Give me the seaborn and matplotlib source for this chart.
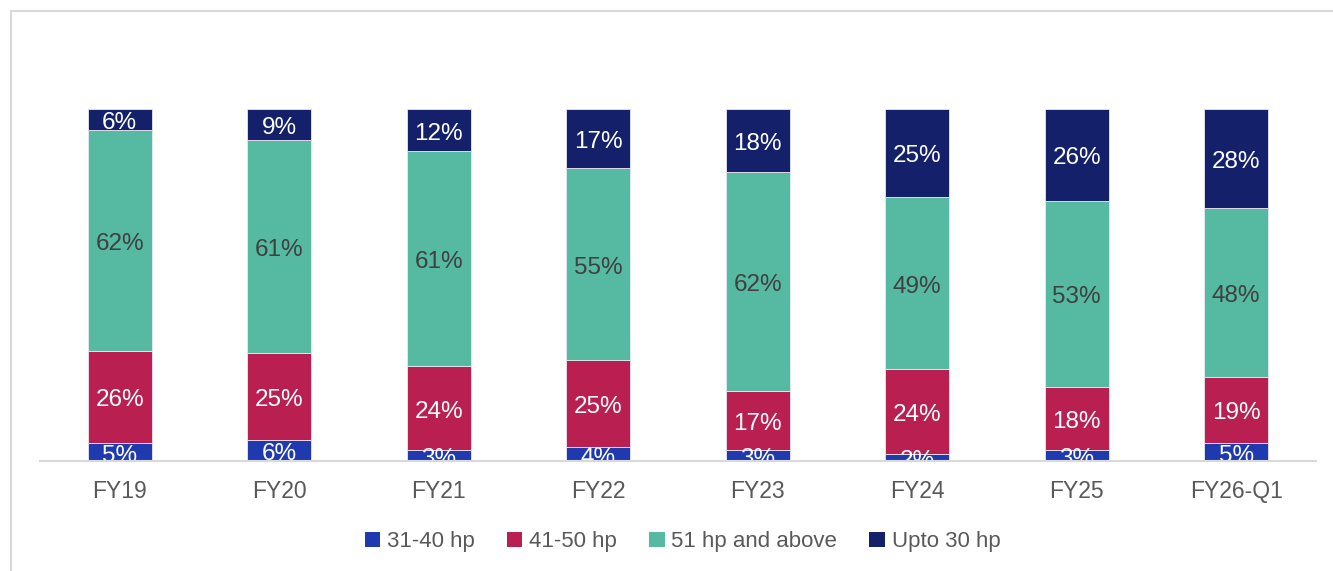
import matplotlib
matplotlib.use("Agg")
import matplotlib.pyplot as plt
from matplotlib.lines import Line2D
from matplotlib.patches import Patch
import numpy as np
import pandas as pd
import seaborn as sns

# Tractor sales mix by horsepower segment (share of volume, %)
years = ["FY19", "FY20", "FY21", "FY22", "FY23", "FY24", "FY25", "FY26-Q1"]
hp_31_40 = [5, 6, 3, 4, 3, 2, 3, 5]
hp_41_50 = [26, 25, 24, 25, 17, 24, 18, 19]
hp_51_up = [62, 61, 61, 55, 62, 49, 53, 48]
hp_upto_30 = [6, 9, 12, 17, 18, 25, 26, 28]

segments = ["31-40 hp", "41-50 hp", "51 hp and above", "Upto 30 hp"]
colors = ["#1F3AAF", "#BA1F51", "#55BAA1", "#14216A"]
label_colors = ["white", "white", "#404040", "white"]

sns.set_theme(style="white")
plt.rcParams["font.family"] = ["Liberation Sans", "DejaVu Sans"]

values = np.array([hp_31_40, hp_41_50, hp_51_up, hp_upto_30], dtype=float)
# each column is a 100% stacked bar
shares = values / values.sum(axis=0) * 100

fig = plt.figure(figsize=(13.33, 5.71), dpi=100)
ax = fig.add_axes([40 / 1333, 110 / 571, 1276 / 1333, 352 / 571])

bottom = np.zeros(len(years))
for i, seg in enumerate(segments):
    df = pd.DataFrame({"year": years, "share": shares[i]})
    sns.barplot(data=df, x="year", y="share", order=years, color=colors[i],
                saturation=1, width=0.4, bottom=bottom, ax=ax,
                edgecolor="#e8e8f0", linewidth=0.6, zorder=2)
    for j, v in enumerate(values[i]):
        ax.annotate(f"{int(v)}%", (j, bottom[j] + shares[i][j] / 2),
                    xytext=(0, -2.5), textcoords="offset points",
                    ha="center", va="center", fontsize=17.5,
                    color=label_colors[i], clip_on=True, zorder=3)
    bottom = bottom + shares[i]

ax.set_xlim(-0.5, len(years) - 0.5)
ax.set_ylim(0, 100)
ax.set_xlabel("")
ax.set_ylabel("")
ax.set_yticks([])
ax.tick_params(axis="x", length=0, pad=13.5, labelsize=16.5, labelcolor="#595959")
for side in ["top", "right", "left"]:
    ax.spines[side].set_visible(False)
ax.spines["bottom"].set_color("#d9d9d9")
ax.spines["bottom"].set_linewidth(1.5)
ax.spines["bottom"].set_zorder(4)

handles = [Patch(facecolor=c, edgecolor="none") for c in colors]
fig.legend(handles, segments, loc="center", bbox_to_anchor=(0.512, 0.051),
           ncol=4, frameon=False, fontsize=16, labelcolor="#595959",
           handlelength=0.7, handleheight=0.7, handletextpad=0.3,
           columnspacing=1.45)

# outer frame
fig.add_artist(Line2D([10.5 / 1333, 1.0], [1 - 10.5 / 571] * 2,
                      transform=fig.transFigure, color="#d9d9d9", lw=1.5))
fig.add_artist(Line2D([10.5 / 1333] * 2, [0.0, 1 - 10.5 / 571],
                      transform=fig.transFigure, color="#d9d9d9", lw=1.5))

fig.savefig("out.png", dpi=100, facecolor="white")
